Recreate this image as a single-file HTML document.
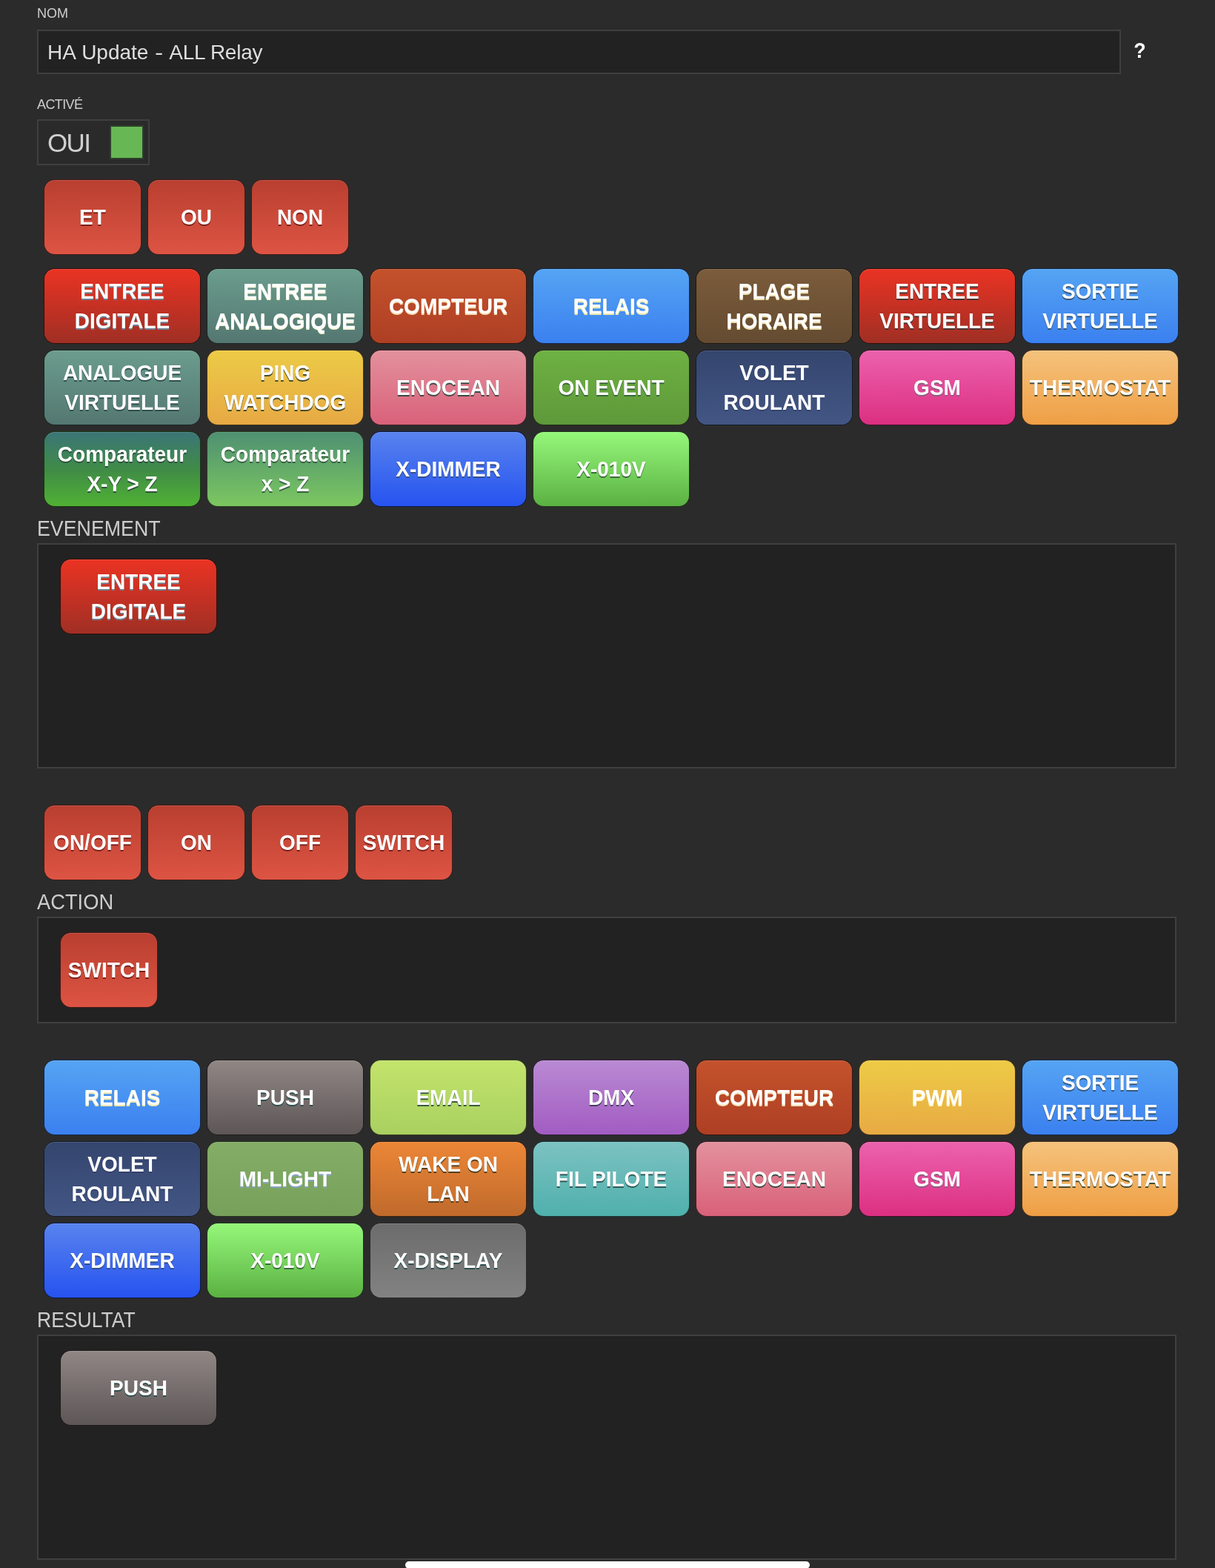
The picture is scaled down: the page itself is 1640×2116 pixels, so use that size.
<!DOCTYPE html>
<html lang="fr">
<head>
<meta charset="utf-8">
<title>Sc&eacute;nario</title>
<style>
html,body{margin:0;padding:0}
body{width:1640px;height:2116px;background:#2b2b2b;position:relative;overflow:hidden;font-family:"Liberation Sans",sans-serif;color:#cfcfcf}
.lbl{position:absolute;white-space:nowrap;color:#cdcdcd}
.s{font-size:18px;line-height:24px}
.m{font-size:29px;line-height:34px;transform-origin:0 50%}
.box{position:absolute;box-sizing:border-box;background:#222;border:2px solid #3f3f3f}
.inp{position:absolute;left:12px;top:1px;line-height:56px;font-size:28px;color:#dedede;white-space:nowrap}
.oui{position:absolute;left:12px;top:0;line-height:60px;font-size:35px;letter-spacing:-1.6px;color:#d0d0d0}
.chk{position:absolute;left:96px;top:6px;width:46px;height:46px;box-sizing:border-box;background:#67b855;border:2px solid #2e3f2b}
.q{position:absolute;width:16px;text-align:center;font-size:28px;line-height:36px;font-weight:bold;color:#fff;transform:scale(.96,1.05)}
.b{position:absolute;height:100px;box-sizing:border-box;border-radius:14px;color:#fff;font-weight:bold;font-size:28px;line-height:40px;text-align:center;display:flex;flex-direction:column;align-items:center;justify-content:center;white-space:nowrap;padding-top:2px;}
.b span{display:block;transform:scaleY(1.05);transform-origin:50% 29.7px}
.home{position:absolute;left:547px;top:2107px;width:546px;height:10px;border-radius:5px;background:#fff}
.red{background:linear-gradient(to bottom,#b93f30,#dd5443);text-shadow:0 2px 0 #7a2018;box-shadow:0 0 0 1px #461a15,inset 0 1px 0 rgba(255,255,255,.13)}
.din{background:linear-gradient(to bottom,#ea3323,#a02f24);text-shadow:0 2px 0 #708090;box-shadow:0 0 0 1px #330f0b,inset 0 1px 0 rgba(255,255,255,.13)}
.ain{background:linear-gradient(to bottom,#6b9d8d,#547771);text-shadow:0 2px 0 #f5f5dc;box-shadow:0 0 0 1px #1a2624,inset 0 1px 0 rgba(255,255,255,.13)}
.cpt{background:linear-gradient(to bottom,#c4522c,#ae3f24);text-shadow:0 2px 0 #f5deb3;box-shadow:0 0 0 1px #37140b,inset 0 1px 0 rgba(255,255,255,.13)}
.rel{background:linear-gradient(to bottom,#55a4f3,#3b80f0);text-shadow:0 2px 0 #eee8aa;box-shadow:0 0 0 1px #12284c,inset 0 1px 0 rgba(255,255,255,.13)}
.plg{background:linear-gradient(to bottom,#7b5c3b,#644b31);text-shadow:0 2px 0 #ebe0b0;box-shadow:0 0 0 1px #20180f,inset 0 1px 0 rgba(255,255,255,.13)}
.vin{background:linear-gradient(to bottom,#ea3323,#a02f24);text-shadow:0 2px 0 #4a3434;box-shadow:0 0 0 1px #330f0b,inset 0 1px 0 rgba(255,255,255,.13)}
.vout{background:linear-gradient(to bottom,#55a4f3,#3b80f0);text-shadow:0 2px 0 #35587a;box-shadow:0 0 0 1px #12284c,inset 0 1px 0 rgba(255,255,255,.13)}
.avi{background:linear-gradient(to bottom,#6b9d8d,#547771);text-shadow:0 2px 0 #2f4f4f;box-shadow:0 0 0 1px #1a2624,inset 0 1px 0 rgba(255,255,255,.13)}
.ping{background:linear-gradient(to bottom,#eccb46,#e7a944);text-shadow:0 2px 0 #454a2c;box-shadow:0 0 0 1px #493615,inset 0 1px 0 rgba(255,255,255,.13)}
.eno{background:linear-gradient(to bottom,#e3919d,#d9617a);text-shadow:0 2px 0 #3a4a44;box-shadow:0 0 0 1px #451f27,inset 0 1px 0 rgba(255,255,255,.13)}
.evt{background:linear-gradient(to bottom,#6eb143,#5f993a);text-shadow:0 2px 0 #37663a;box-shadow:0 0 0 1px #1e3012,inset 0 1px 0 rgba(255,255,255,.13)}
.vol{background:linear-gradient(to bottom,#34456e,#435684);text-shadow:0 2px 0 #33426c;box-shadow:0 0 0 1px #151b2a,inset 0 1px 0 rgba(255,255,255,.13)}
.gsm{background:linear-gradient(to bottom,#ec62ac,#dc2f82);text-shadow:0 2px 0 #8a5f80;box-shadow:0 0 0 1px #460f29,inset 0 1px 0 rgba(255,255,255,.13)}
.thr{background:linear-gradient(to bottom,#f5c27c,#ef9f45);text-shadow:0 2px 0 #4a4c2e;box-shadow:0 0 0 1px #4c3216,inset 0 1px 0 rgba(255,255,255,.13)}
.cmp1{background:linear-gradient(to bottom,#3b7577 0%,#408c46 52%,#50b234);text-shadow:0 2px 0 #2c5238;box-shadow:0 0 0 1px #193810,inset 0 1px 0 rgba(255,255,255,.13)}
.cmp2{background:linear-gradient(to bottom,#4e9072,#7cc760);text-shadow:0 2px 0 #35603f;box-shadow:0 0 0 1px #273f1e,inset 0 1px 0 rgba(255,255,255,.13)}
.xdim{background:linear-gradient(to bottom,#5883ee,#2653f0);text-shadow:0 2px 0 #33508a;box-shadow:0 0 0 1px #0c1a4c,inset 0 1px 0 rgba(255,255,255,.13)}
.x010{background:linear-gradient(to bottom,#95f77a,#5bb142);text-shadow:0 2px 0 #3a6a3a;box-shadow:0 0 0 1px #1d3815,inset 0 1px 0 rgba(255,255,255,.13)}
.push{background:linear-gradient(to bottom,#908785,#5d5656);text-shadow:0 2px 0 #2f4f4f;box-shadow:0 0 0 1px #1d1b1b,inset 0 1px 0 rgba(255,255,255,.13)}
.mail{background:linear-gradient(to bottom,#c3e46c,#a9d060);text-shadow:0 2px 0 #3a5a40;box-shadow:0 0 0 1px #36421e,inset 0 1px 0 rgba(255,255,255,.13)}
.dmx{background:linear-gradient(to bottom,#b98ad3,#a25cc2);text-shadow:0 2px 0 #4a3c62;box-shadow:0 0 0 1px #331d3e,inset 0 1px 0 rgba(255,255,255,.13)}
.pwm{background:linear-gradient(to bottom,#edcb46,#e8aa44);text-shadow:0 2px 0 #fff5c0;box-shadow:0 0 0 1px #4a3615,inset 0 1px 0 rgba(255,255,255,.13)}
.mil{background:linear-gradient(to bottom,#84ad66,#77a15b);text-shadow:0 2px 0 #8aa4c8;box-shadow:0 0 0 1px #26331d,inset 0 1px 0 rgba(255,255,255,.13)}
.wol{background:linear-gradient(to bottom,#ec8636,#c06a2c);text-shadow:0 2px 0 #55401e;box-shadow:0 0 0 1px #3d210e,inset 0 1px 0 rgba(255,255,255,.13)}
.fil{background:linear-gradient(to bottom,#7cc2c2,#4fb0ac);text-shadow:0 2px 0 #2f5858;box-shadow:0 0 0 1px #193837,inset 0 1px 0 rgba(255,255,255,.13)}
.xdis{background:linear-gradient(to bottom,#6c6c6c,#828282);text-shadow:0 2px 0 #2f4f4f;box-shadow:0 0 0 1px #292929,inset 0 1px 0 rgba(255,255,255,.13)}
</style>
</head>
<body>
<div class="lbl s" style="left:50px;top:6px">NOM</div>
<div class="box" style="left:50px;top:40px;width:1463px;height:60px"><div class="inp">HA <span style="margin-left:1px">Update</span> <span style="display:inline-block;margin-left:2px;transform:scaleX(1.2)">-</span> <span style="margin-left:1px;letter-spacing:-.25px">ALL Relay</span></div></div>
<div class="q" style="left:1530px;top:51px">?</div>
<div class="lbl s" style="left:50px;top:129px;letter-spacing:-.6px">ACTIVÉ</div>
<div class="box" style="left:50px;top:161px;width:152px;height:62px;background:#2a2a2a"><div class="oui">OUI</div><div class="chk"></div></div>
<div class="b red" style="left:60px;top:243px;width:130px"><span>ET</span></div>
<div class="b red" style="left:200px;top:243px;width:130px"><span>OU</span></div>
<div class="b red" style="left:340px;top:243px;width:130px"><span>NON</span></div>
<div class="b din" style="left:60px;top:363px;width:210px"><span>ENTREE</span> <span>DIGITALE</span></div>
<div class="b ain" style="left:280px;top:363px;width:210px"><span>ENTREE</span> <span>ANALOGIQUE</span></div>
<div class="b cpt" style="left:500px;top:363px;width:210px"><span>COMPTEUR</span></div>
<div class="b rel" style="left:720px;top:363px;width:210px"><span>RELAIS</span></div>
<div class="b plg" style="left:940px;top:363px;width:210px"><span>PLAGE</span> <span>HORAIRE</span></div>
<div class="b vin" style="left:1160px;top:363px;width:210px"><span>ENTREE</span> <span>VIRTUELLE</span></div>
<div class="b vout" style="left:1380px;top:363px;width:210px"><span>SORTIE</span> <span>VIRTUELLE</span></div>
<div class="b avi" style="left:60px;top:473px;width:210px"><span>ANALOGUE</span> <span>VIRTUELLE</span></div>
<div class="b ping" style="left:280px;top:473px;width:210px"><span>PING</span> <span>WATCHDOG</span></div>
<div class="b eno" style="left:500px;top:473px;width:210px"><span>ENOCEAN</span></div>
<div class="b evt" style="left:720px;top:473px;width:210px"><span>ON EVENT</span></div>
<div class="b vol" style="left:940px;top:473px;width:210px"><span>VOLET</span> <span>ROULANT</span></div>
<div class="b gsm" style="left:1160px;top:473px;width:210px"><span>GSM</span></div>
<div class="b thr" style="left:1380px;top:473px;width:210px"><span>THERMOSTAT</span></div>
<div class="b cmp1" style="left:60px;top:583px;width:210px"><span>Comparateur</span> <span>X-Y &gt; Z</span></div>
<div class="b cmp2" style="left:280px;top:583px;width:210px"><span>Comparateur</span> <span>x &gt; Z</span></div>
<div class="b xdim" style="left:500px;top:583px;width:210px"><span>X-DIMMER</span></div>
<div class="b x010" style="left:720px;top:583px;width:210px"><span>X-010V</span></div>
<div class="lbl m" style="left:50px;top:696px;transform:scaleX(.923)">EVENEMENT</div>
<div class="box" style="left:50px;top:733px;width:1538px;height:304px"></div>
<div class="b din" style="left:82px;top:755px;width:210px"><span>ENTREE</span> <span>DIGITALE</span></div>
<div class="b red" style="left:60px;top:1087px;width:130px"><span>ON/OFF</span></div>
<div class="b red" style="left:200px;top:1087px;width:130px"><span>ON</span></div>
<div class="b red" style="left:340px;top:1087px;width:130px"><span>OFF</span></div>
<div class="b red" style="left:480px;top:1087px;width:130px"><span>SWITCH</span></div>
<div class="lbl m" style="left:50px;top:1200px;transform:scaleX(.941)">ACTION</div>
<div class="box" style="left:50px;top:1237px;width:1538px;height:144px"></div>
<div class="b red" style="left:82px;top:1259px;width:130px"><span>SWITCH</span></div>
<div class="b rel" style="left:60px;top:1431px;width:210px"><span>RELAIS</span></div>
<div class="b push" style="left:280px;top:1431px;width:210px"><span>PUSH</span></div>
<div class="b mail" style="left:500px;top:1431px;width:210px"><span>EMAIL</span></div>
<div class="b dmx" style="left:720px;top:1431px;width:210px"><span>DMX</span></div>
<div class="b cpt" style="left:940px;top:1431px;width:210px"><span>COMPTEUR</span></div>
<div class="b pwm" style="left:1160px;top:1431px;width:210px"><span>PWM</span></div>
<div class="b vout" style="left:1380px;top:1431px;width:210px"><span>SORTIE</span> <span>VIRTUELLE</span></div>
<div class="b vol" style="left:60px;top:1541px;width:210px"><span>VOLET</span> <span>ROULANT</span></div>
<div class="b mil" style="left:280px;top:1541px;width:210px"><span>MI-LIGHT</span></div>
<div class="b wol" style="left:500px;top:1541px;width:210px"><span>WAKE ON</span> <span>LAN</span></div>
<div class="b fil" style="left:720px;top:1541px;width:210px"><span>FIL PILOTE</span></div>
<div class="b eno" style="left:940px;top:1541px;width:210px"><span>ENOCEAN</span></div>
<div class="b gsm" style="left:1160px;top:1541px;width:210px"><span>GSM</span></div>
<div class="b thr" style="left:1380px;top:1541px;width:210px"><span>THERMOSTAT</span></div>
<div class="b xdim" style="left:60px;top:1651px;width:210px"><span>X-DIMMER</span></div>
<div class="b x010" style="left:280px;top:1651px;width:210px"><span>X-010V</span></div>
<div class="b xdis" style="left:500px;top:1651px;width:210px"><span>X-DISPLAY</span></div>
<div class="lbl m" style="left:50px;top:1764px;transform:scaleX(.915)">RESULTAT</div>
<div class="box" style="left:50px;top:1801px;width:1538px;height:304px"></div>
<div class="b push" style="left:82px;top:1823px;width:210px"><span>PUSH</span></div>
<div class="home"></div>
</body>
</html>
